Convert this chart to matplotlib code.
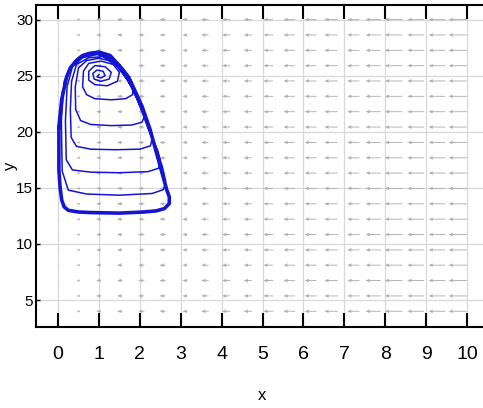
import numpy as np
import matplotlib
matplotlib.use('Agg')
import matplotlib.pyplot as plt

plt.rcParams['font.family'] = ['Liberation Sans', 'DejaVu Sans']

# quiver grid
x_grid = [0.0, 0.53, 1.05, 1.58, 2.11, 2.63, 3.16, 3.68, 4.21, 4.74,
          5.26, 5.79, 6.32, 6.84, 7.37, 7.89, 8.42, 8.95, 9.47, 10.0]
y_grid = [4.0, 5.37, 6.74, 8.11, 9.47, 10.84, 12.21, 13.58, 14.95, 16.32,
          17.68, 19.05, 20.42, 21.79, 23.16, 24.53, 25.89, 27.26, 28.63, 30.0]
# arrow length per column (all pointing left)
u_col = [0.02, 0.08, 0.12, 0.14, 0.15, 0.15, 0.12, 0.18, 0.20, 0.20,
         0.24, 0.28, 0.29, 0.33, 0.30, 0.37, 0.43, 0.41, 0.41, 0.45]

# trajectory: spiral out of (1, 25) onto the outer cycle
traj_x = [1.0, 0.95, 1.05, 1.15, 1.1, 0.95, 0.85, 0.88, 1.05, 1.25, 1.3, 1.15, 0.9, 0.75,
          0.75, 0.9, 1.2, 1.45, 1.5, 1.35, 1.05, 0.75, 0.62,
          0.6, 0.7, 0.9, 1.3, 1.65, 1.82, 1.85, 1.75, 1.58, 1.3, 1.0, 0.7, 0.5,
          0.42, 0.43, 0.55, 0.8, 1.3, 1.8, 2.05, 2.12, 2.05, 1.92, 1.7, 1.45, 1.1, 0.75, 0.45,
          0.33, 0.3, 0.32, 0.45, 0.8, 1.4, 2.0, 2.26, 2.3, 2.2, 2.08, 1.92, 1.65, 1.3, 0.95, 0.6, 0.35,
          0.22, 0.18, 0.2, 0.35, 0.8, 1.5, 2.2, 2.46, 2.5, 2.44, 2.3, 2.07, 1.8, 1.45, 1.1, 0.75, 0.4,
          0.15, 0.08, 0.1, 0.25, 0.7, 1.5, 2.3, 2.58, 2.63, 2.55, 2.42, 2.2, 1.98, 1.68, 1.3, 1.0, 0.6, 0.3,
          0.1, 0.02]
traj_y = [25.1, 24.9, 24.8, 25.0, 25.4, 25.5, 25.2, 24.7, 24.5, 24.7, 25.3, 25.8, 25.9, 25.4,
          24.6, 24.2, 24.1, 24.5, 25.3, 26.0, 26.3, 26.1, 25.4,
          24.0, 23.3, 22.95, 22.85, 22.95, 23.3, 24.0, 24.9, 25.7, 26.3, 26.55, 26.35, 25.7,
          24.0, 22.0, 21.0, 20.65, 20.55, 20.6, 20.85, 21.4, 22.3, 23.3, 24.6, 25.8, 26.7, 26.6, 26.0,
          24.5, 22.0, 19.5, 18.7, 18.45, 18.4, 18.45, 18.75, 19.4, 20.3, 21.5, 23.0, 25.0, 26.5, 26.9, 26.6, 25.8,
          24.0, 21.0, 17.5, 16.6, 16.4, 16.35, 16.45, 16.75, 17.4, 18.3, 19.5, 21.8, 24.0, 26.0, 26.9, 26.9, 26.3,
          24.5, 21.0, 16.5, 14.8, 14.45, 14.35, 14.5, 14.85, 15.6, 16.9, 18.3, 20.5, 22.8, 25.0, 26.6, 27.05, 26.8, 25.8,
          23.5, 20.4]

# outer limit cycle
cyc_x = [0.02, 0.02, 0.05, 0.09, 0.15, 0.25, 0.5, 0.8, 1.5, 2.1, 2.4, 2.6, 2.72, 2.72, 2.66,
         2.5, 2.25, 2.05, 1.9, 1.76, 1.5, 1.27, 1.0, 0.78, 0.6, 0.46, 0.3, 0.21, 0.09, 0.05, 0.02]
cyc_y = [20.4, 16.6, 15.0, 13.9, 13.3, 13.0, 12.85, 12.8, 12.75, 12.85, 12.95, 13.15, 13.6, 14.2, 14.8,
         16.9, 20.2, 22.3, 23.5, 24.6, 25.9, 26.8, 27.1, 27.0, 26.8, 26.4, 25.7, 24.9, 22.9, 21.5, 20.4]

fig = plt.figure(figsize=(4.83, 4.08), dpi=100)
ax = fig.add_axes([36 / 483, 81 / 408, 451 / 483, 322 / 408])

X, Y = np.meshgrid(x_grid, y_grid)
U = -np.tile(u_col, (len(y_grid), 1))
V = np.zeros_like(U)
ax.quiver(X, Y, U, V, angles='xy', scale_units='xy', scale=1, pivot='tail',
          color='#b0b0b0', width=0.002, headwidth=4, headlength=5, headaxislength=4.5,
          zorder=2)

ax.plot(traj_x, traj_y, color='#1414d4', lw=1.1, solid_joinstyle='round', zorder=3)
ax.plot(cyc_x, cyc_y, color='#1414d4', lw=2.6, solid_joinstyle='round', zorder=3)

ax.set_xlim(-0.54, 10.49)
ax.set_ylim(2.6, 31.3)
ax.set_xticks(range(0, 11))
ax.set_yticks([5, 10, 15, 20, 25, 30])
ax.grid(True, color='#d8d8d8', lw=0.9, zorder=1)
ax.set_axisbelow(True)

for s in ax.spines.values():
    s.set_linewidth(1.5)
    s.set_color('black')

ax.tick_params(axis='x', direction='in', length=10, width=1.5, top=True, bottom=True,
               pad=14, labelsize=14)
ax.tick_params(axis='y', direction='in', length=3, width=1, left=True, right=True,
               pad=2, labelsize=11)

ax.set_xlabel('x', fontsize=12)
ax.set_ylabel('y', fontsize=12)
ax.xaxis.set_label_coords(0.5, -0.19)
ax.yaxis.set_label_coords(-0.04, 0.5)

fig.savefig('out.png', dpi=100)
